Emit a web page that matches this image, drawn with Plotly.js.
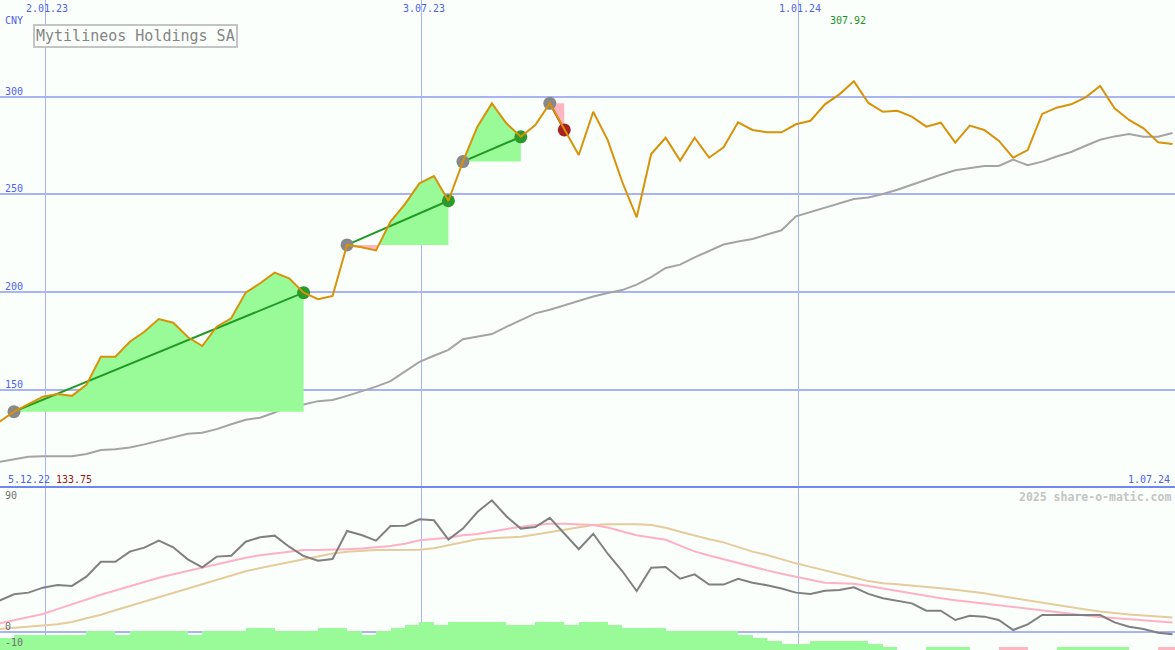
<!DOCTYPE html>
<html><head><meta charset="utf-8">
<script src="https://cdn.plot.ly/plotly-3.0.1.min.js"></script>
<style>html,body{margin:0;padding:0;background:#fbfffb;}#chart{width:1175px;height:650px;}</style>
</head><body><div id="chart"></div>
<script>
// weekly closes, first week starting 2022-12-11
const firstWeek = '2022-12-11';
const price = [133.75,138.9,142.8,146.6,148.0,147.0,152.6,167.0,167.0,174.7,
179.8,186.3,184.4,177.1,172.5,182.4,186.7,199.8,204.6,210.0,
207.1,199.8,196.4,198.1,224.2,223.0,221.4,236.1,245.1,255.7,
259.4,246.8,266.8,284.7,296.6,286.4,279.5,285.5,296.6,283.0,
270.2,292.3,277.8,256.5,238.3,270.7,279.0,267.3,279.0,268.8,
274.1,286.9,283.0,281.8,281.8,285.9,287.7,296.1,301.2,307.92,
296.8,292.3,292.8,289.8,284.7,286.7,276.5,285.2,283.0,277.5,
268.8,272.7,291.2,294.4,296.1,299.7,305.5,294.1,288.1,283.8,
276.7,275.8];
const avg = [113.3,114.6,115.8,116.1,116.0,116.1,117.3,119.3,119.7,120.6,
122.2,124.0,125.8,127.6,128.1,130.0,132.5,134.8,135.8,138.5,
142.1,142.6,144.3,144.9,147.0,149.2,151.7,154.5,159.4,164.4,
167.5,170.5,176.0,177.3,178.6,182.3,185.7,189.2,191.0,193.3,
195.9,197.8,199.6,201.1,203.9,207.7,212.4,214.1,217.8,221.2,
224.4,226.0,227.2,229.5,231.7,238.8,241.0,243.0,245.3,247.7,
248.5,250.2,252.4,254.9,257.8,260.1,262.4,263.4,264.6,264.6,
267.8,265.0,266.8,269.4,271.7,274.9,278.0,279.7,280.9,279.5,
279.5,281.4];
const osc = [19.6,23.6,24.6,27.7,29.4,28.8,34.6,43.9,43.9,50.2,
52.7,57.1,52.9,45.4,40.4,47.1,47.7,56.4,59.2,60.2,
53.3,47.5,44.6,45.6,63.1,60.6,57.1,66.2,66.4,70.4,
69.8,57.7,64.6,75.0,82.3,72.3,64.6,65.6,71.3,61.4,
51.7,61.4,48.9,38.1,25.6,40.2,40.6,33.3,36.0,29.6,
29.6,33.3,30.8,29.2,27.2,24.6,23.8,25.8,26.3,27.9,
23.8,21.1,19.6,17.9,13.3,13.3,7.5,10.2,9.6,7.5,
1.25,4.8,10.6,10.6,10.2,10.2,10.6,6.0,3.3,1.9,
-0.4,-1.4];
const oscPink = [5.4,7.3,9.3,11.2,14.3,17.4,20.3,23.3,25.9,28.6,
31.3,33.9,36.1,38.1,40.1,42.2,44.3,46.4,47.9,49.1,
50.3,51.3,51.3,51.3,51.7,52.1,52.9,53.8,55.1,57.3,
58.1,58.9,60.4,61.3,62.8,64.4,65.8,66.9,67.7,67.7,
67.4,66.8,65.3,62.9,60.4,59.1,57.6,54.0,50.4,47.8,
45.4,43.0,40.8,38.5,36.4,34.4,32.5,30.8,30.4,30.1,
28.8,27.2,25.6,24.1,22.6,21.1,19.9,18.8,17.6,16.5,
15.4,14.4,13.4,12.3,11.3,10.3,9.3,8.6,8.0,7.4,
6.6,5.9];
const oscTan = [1.9,2.6,3.3,3.9,4.9,6.3,8.5,10.8,13.6,16.3,
19.1,21.8,24.5,27.1,29.8,32.5,35.2,37.9,40.0,41.8,
43.6,45.4,47.3,49.1,50.1,50.9,51.3,51.3,51.3,51.4,
52.4,54.3,56.1,58.0,58.6,59.0,59.5,60.9,62.3,63.7,
65.3,66.9,67.4,67.6,67.4,66.9,65.1,62.6,60.1,58.0,
56.0,53.3,50.2,48.1,45.3,42.9,40.7,38.6,36.4,34.1,
31.8,30.4,29.8,29.1,28.2,27.3,26.4,25.4,24.2,22.7,
21.2,19.7,18.2,16.8,15.5,14.1,12.8,11.7,11.0,10.3,
9.6,9.0];
const hist = [4,5,5,5,5,5,6,6,5,6,
6,6,6,5,6,6,6,7,7,6,
6,6,7,7,6,5,6,7,8,9,
8,9,9,9,9,8,8,9,9,8,
9,9,8,7,7,7,6,6,6,6,
6,5,4,3,2,2,3,3,3,3,
2,1,0,0,1,1,1,0,0,-1,
-1,0,0,1,1,1,1,1,0,0,
-1,-1];
const trendStart = [1,24,32,38];
const trendEnd = [21,31,36,39];
const xTicks = ['2023-01-02','2023-07-03','2024-01-01'];
const xTickLabels = ['2.01.23','3.07.23','1.01.24'];
const yTicks = [150,200,250,300];
const currency = 'CNY';
const titleText = 'Mytilineos Holdings SA';
const firstLabel = '5.12.22', lastLabel = '1.07.24';
const minLabel = '133.75', maxLabel = '307.92';
const oscLabels = [90, 0, -10];
const credit = '2025 share-o-matic.com';

const DAY = 86400000, WEEK = 7*DAY;
const t0 = Date.parse(firstWeek + 'T00:00:00Z');
const dates = price.map((_, k) => t0 + k*WEEK);

const MONO = 'DejaVu Sans Mono, monospace';
const BLUE = '#4f5ff0';
const GRID = '#a8b4f4';
const BG = '#fbfffb';

const traces = [];
// histogram in lower panel
traces.push({
  type:'bar', x: dates.map(d => d + WEEK/2), y: hist.map(Math.abs), width: WEEK,
  marker:{color: hist.map(v => v < 0 ? '#ffb6c1' : '#98fb98'), line:{width:0}},
  xaxis:'x', yaxis:'y3', hoverinfo:'skip'
});
traces.push({type:'scatter', mode:'lines', x:dates, y:oscTan, line:{color:'#e6cc9c', width:2}, xaxis:'x', yaxis:'y2'});
traces.push({type:'scatter', mode:'lines', x:dates, y:oscPink, line:{color:'#ffb0c6', width:2}, xaxis:'x', yaxis:'y2'});
traces.push({type:'scatter', mode:'lines', x:dates, y:osc, line:{color:'#808080', width:2}, xaxis:'x', yaxis:'y2'});
// moving average
traces.push({type:'scatter', mode:'lines', x:dates, y:avg, line:{color:'#a4a4a4', width:2}, xaxis:'x', yaxis:'y'});

// trend fills
trendStart.forEach((s, j) => {
  const e = trendEnd[j], b = price[s];
  const pts = [];
  for (let i = s; i <= e; i++) {
    pts.push([dates[i], price[i]]);
    if (i < e) {
      const p1 = price[i], p2 = price[i+1];
      if ((p1 - b) * (p2 - b) < 0) {
        const f = (b - p1) / (p2 - p1);
        pts.push([dates[i] + f*WEEK, b]);
      }
    }
  }
  const mk = (fn, color) => {
    const xs = pts.map(p => p[0]).concat([dates[e], dates[s]]);
    const ys = pts.map(p => fn(p[1], b)).concat([b, b]);
    traces.push({type:'scatter', mode:'lines', x:xs, y:ys, fill:'toself', fillcolor:color,
      line:{width:0, color:color}, xaxis:'x', yaxis:'y'});
  };
  mk(Math.max, '#98fb98');
  mk(Math.min, '#ffb6c1');
});
// trend lines
trendStart.forEach((s, j) => {
  const e = trendEnd[j];
  const up = price[e] >= price[s];
  traces.push({type:'scatter', mode:'lines', x:[dates[s], dates[e]], y:[price[s], price[e]],
    line:{color: up ? '#229922' : '#a82222', width:2}, xaxis:'x', yaxis:'y'});
});
// dots
traces.push({type:'scatter', mode:'markers', x: trendStart.map(i => dates[i]), y: trendStart.map(i => price[i]),
  marker:{color:'#888888', size:13, line:{width:0}}, xaxis:'x', yaxis:'y'});
traces.push({type:'scatter', mode:'markers', x: trendEnd.map(i => dates[i]), y: trendEnd.map(i => price[i]),
  marker:{color: trendEnd.map((e, j) => price[e] >= price[trendStart[j]] ? '#2a9a2a' : '#a82222'), size:13, line:{width:0}},
  xaxis:'x', yaxis:'y'});
// price
traces.push({type:'scatter', mode:'lines', x:dates, y:price, line:{color:'#d8920a', width:2}, xaxis:'x', yaxis:'y'});

const splitY = 163/650;
const annotations = [];
xTicks.forEach((d, i) => annotations.push({x:d, xref:'x', y:1, yref:'paper', yanchor:'top', xanchor:'center',
  text:xTickLabels[i], showarrow:false, font:{family:MONO, size:10, color:BLUE}, yshift:-1, xshift:2}));
annotations.push({x:0, xref:'paper', xanchor:'left', xshift:3, y:1, yref:'paper', yanchor:'top', yshift:-13,
  text:currency, showarrow:false, font:{family:MONO, size:10, color:BLUE}});
yTicks.forEach(v => annotations.push({x:0, xref:'paper', xanchor:'left', xshift:3, y:v, yref:'y', yanchor:'bottom', yshift:-2,
  text:String(v), showarrow:false, font:{family:MONO, size:10, color:BLUE}}));
const iMax = price.indexOf(Math.max(...price));
annotations.push({x:dates[iMax], xref:'x', xanchor:'center', xshift:-6, y:1, yref:'paper', yanchor:'top', yshift:-13,
  text:maxLabel, showarrow:false, font:{family:MONO, size:10, color:'#22912a'}});
annotations.push({x:0, xref:'paper', xanchor:'left', xshift:6, y:splitY, yref:'paper', yanchor:'bottom', yshift:0,
  text:firstLabel, showarrow:false, font:{family:MONO, size:10, color:BLUE}});
annotations.push({x:0, xref:'paper', xanchor:'left', xshift:54, y:splitY, yref:'paper', yanchor:'bottom', yshift:0,
  text:minLabel, showarrow:false, font:{family:MONO, size:10, color:'#a01818'}});
annotations.push({x:1, xref:'paper', xanchor:'right', xshift:-3, y:splitY, yref:'paper', yanchor:'bottom', yshift:0,
  text:lastLabel, showarrow:false, font:{family:MONO, size:10, color:BLUE}});
annotations.push({x:1, xref:'paper', xanchor:'right', xshift:-2, y:splitY, yref:'paper', yanchor:'top', yshift:-1,
  text:'<b>'+credit+'</b>', showarrow:false, font:{family:MONO, size:11.5, color:'#c4c4c4'}});
annotations.push({x:0, xref:'paper', xanchor:'left', xshift:3, y:splitY, yref:'paper', yanchor:'top', yshift:-1,
  text:String(oscLabels[0]), showarrow:false, font:{family:MONO, size:10, color:'#707070'}});
oscLabels.slice(1).forEach(v => annotations.push({x:0, xref:'paper', xanchor:'left', xshift:3, y:v, yref:'y2', yanchor:'bottom', yshift:-2,
  text:String(v), showarrow:false, font:{family:MONO, size:10, color:'#707070'}}));
annotations.push({x:33/1175, xref:'paper', xanchor:'left', y:1, yref:'paper', yanchor:'top', yshift:-24,
  text:titleText, showarrow:false, font:{family:MONO, size:15, color:'#858585'},
  bordercolor:'#c4c4c4', borderwidth:2, borderpad:1, bgcolor:BG});

const layout = {
  width:1175, height:650, margin:{l:0, r:0, t:0, b:0},
  paper_bgcolor:BG, plot_bgcolor:BG, showlegend:false, bargap:0,
  xaxis:{type:'date', range:['2022-12-11 05:50','2024-07-01 05:00'], tickvals:xTicks, showticklabels:false,
    showgrid:true, gridcolor:GRID, gridwidth:1, zeroline:false, showline:false, ticks:'', fixedrange:true},
  yaxis:{domain:[splitY, 1], range:[100.39, 349.46], tickvals:yTicks, showticklabels:false,
    showgrid:true, gridcolor:GRID, gridwidth:2, zeroline:false, showline:false, ticks:''},
  yaxis2:{domain:[0, splitY], range:[-11.25, 90.6], tickvals:[0], showticklabels:false,
    showgrid:true, gridcolor:GRID, gridwidth:2, zeroline:false, showline:false, ticks:''},
  yaxis3:{overlaying:'y2', range:[0, 52.58], showgrid:false, showticklabels:false, zeroline:false, ticks:''},
  shapes:[{type:'line', xref:'paper', yref:'paper', x0:0, x1:1, y0:splitY, y1:splitY, line:{color:'#7286f0', width:2}}],
  annotations:annotations
};
Plotly.newPlot('chart', traces, layout, {staticPlot:true, displayModeBar:false});
</script></body></html>
